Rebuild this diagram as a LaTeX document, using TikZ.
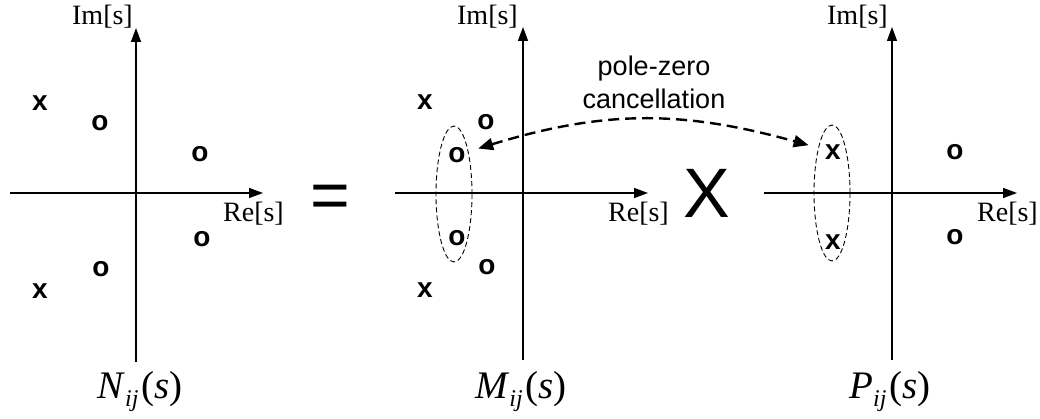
\documentclass[tikz,border=0pt]{standalone}
\usepackage{fontspec}
\setmainfont{Liberation Serif}
\setsansfont{Liberation Sans}
\usetikzlibrary{arrows.meta,shapes.geometric}

% transfer function label, e.g. N_ij(s)
\newcommand{\tfn}[2]{\textit{#1}\raisebox{-8pt}{\fontsize{24}{26}\selectfont\textit{#2}}\kern3pt(\textit{s})}

\begin{document}
\begin{tikzpicture}[x=1pt,y=-1pt,
  axis/.style={-{Triangle[length=14pt,width=10pt]},line width=1.4pt},
  lbl/.style={font=\fontsize{28}{30}\selectfont,inner sep=0pt},
  root/.style={font=\fontsize{28}{30}\selectfont\sffamily\bfseries,inner sep=0pt},
  tfl/.style={font=\fontsize{39}{42}\selectfont,inner sep=0pt,anchor=base},
  zone/.style={draw,ellipse,line width=0.9pt,dash pattern=on 5pt off 3pt,
    minimum width=36pt,minimum height=136pt,inner sep=0pt},
  cancel/.style={{Triangle[length=15pt,width=12pt]}-{Triangle[length=15pt,width=12pt]},
    line width=2.4pt,dash pattern=on 11pt off 6pt}]
\useasboundingbox (0,0) rectangle (1040,419);

% N_ij(s)
\coordinate (nW) at (10,193);
\coordinate (nE) at (263,193);
\coordinate (nS) at (136,362);
\coordinate (nN) at (136,28);
\draw[axis] (nW) -- (nE);
\draw[axis] (nS) -- (nN);
\node[lbl,anchor=base east] (nim) at (133,25) {Im[s]};
\node[lbl,anchor=base east] (nre) at (284,222) {Re[s]};
\node[root] (nx1) at (40,103) {x};
\node[root] (no1) at (100,123) {o};
\node[root] (no2) at (200,154) {o};
\node[root] (no3) at (202,239) {o};
\node[root] (no4) at (101,269) {o};
\node[root] (nx2) at (40,291) {x};
\node[tfl] (ntf) at (140,398) {\tfn{N}{ij}};

\node[font=\fontsize{68}{70}\selectfont\sffamily,inner sep=0pt,anchor=base] (eq) at (330,219) {=};

% M_ij(s)
\coordinate (mW) at (395,193);
\coordinate (mE) at (648,193);
\coordinate (mS) at (523,360);
\coordinate (mN) at (523,27);
\draw[axis] (mW) -- (mE);
\draw[axis] (mS) -- (mN);
\node[lbl,anchor=base east] (mim) at (518,25) {Im[s]};
\node[lbl,anchor=base east] (mre) at (669,222) {Re[s]};
\node[root] (mx1) at (425,102) {x};
\node[root] (mo1) at (486,122) {o};
\node[root] (mo2) at (457,155) {o};
\node[root] (mo3) at (457,238) {o};
\node[root] (mo4) at (487,267) {o};
\node[root] (mx2) at (425,290) {x};
\node[zone] (mzone) at (454,194) {};
\node[tfl] (mtf) at (521,398) {\tfn{M}{ij}};

\node[font=\fontsize{70}{72}\selectfont\sffamily,inner sep=0pt] (times) at (707,193) {X};

% P_ij(s)
\coordinate (pW) at (764,193);
\coordinate (pE) at (1017,193);
\coordinate (pS) at (892,360);
\coordinate (pN) at (892,27);
\draw[axis] (pW) -- (pE);
\draw[axis] (pS) -- (pN);
\node[lbl,anchor=base east] (pim) at (888,25) {Im[s]};
\node[lbl,anchor=base east] (pre) at (1038,222) {Re[s]};
\node[root] (px1) at (833,152) {x};
\node[root] (px2) at (833,242) {x};
\node[root] (po1) at (955,152) {o};
\node[root] (po2) at (955,237) {o};
\node[zone] (pzone) at (832,193) {};
\node[tfl] (ptf) at (890,398) {\tfn{P}{ij}};

% cancellation
\node[font=\fontsize{27}{33}\selectfont\sffamily,align=center,inner sep=0pt] (pzc) at (654,82) {pole-zero\\cancellation};
\draw[cancel,shorten <=13pt,shorten >=17pt] (mo2) .. controls (604,110) and (682,110) .. (px1);
\end{tikzpicture}
\end{document}
